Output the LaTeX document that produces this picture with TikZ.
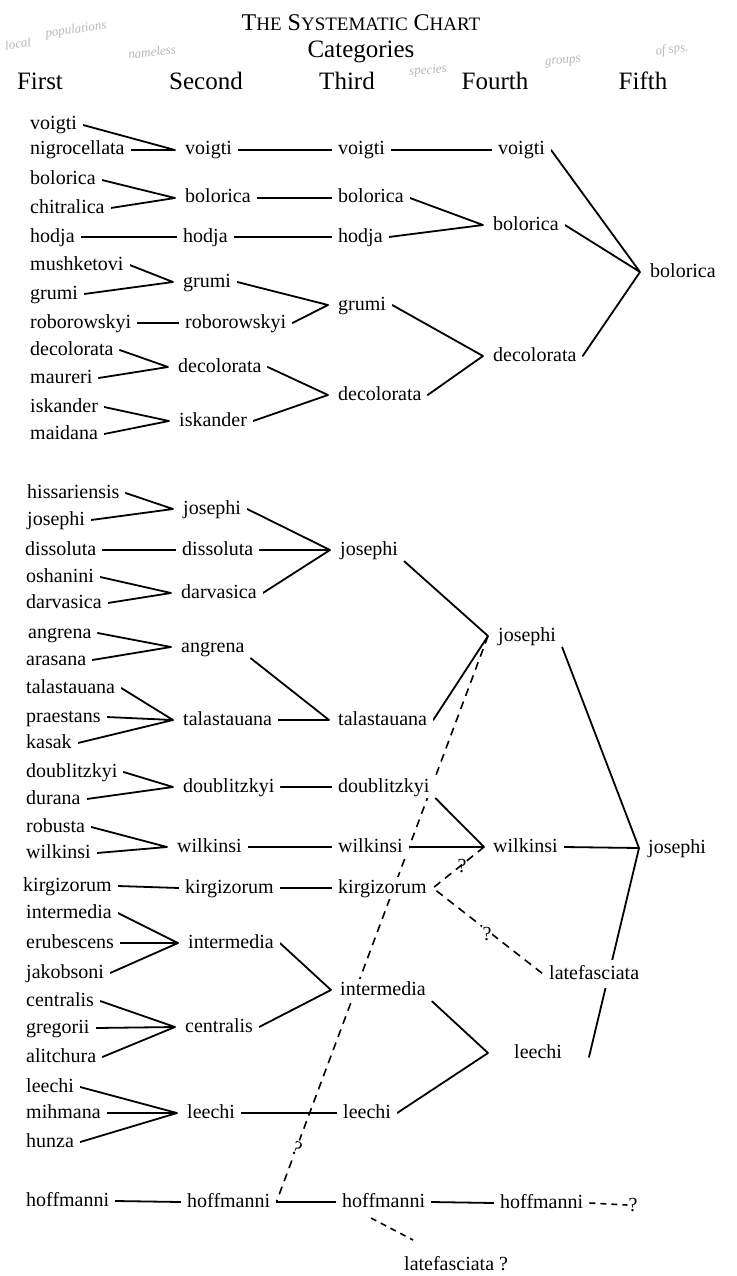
\documentclass[tikz,border=0pt]{standalone}
\usepackage{fontspec}
\setmainfont{Liberation Serif}
\usetikzlibrary{backgrounds}
\newcommand\tscap[2]{{\fontsize{24}{24}\selectfont #1}{\fontsize{19}{19}\selectfont #2}}
\begin{document}
\begin{tikzpicture}[x=1pt,y=-1pt,
  lab/.style={anchor=west, xshift=-6pt, inner xsep=6pt, inner ysep=2pt, text height=14pt, text depth=4pt, fill=white, font=\fontsize{20}{24}\selectfont},
  ln/.style={line width=1.8pt, line cap=round},
  dsh/.style={line width=1.6pt, dash pattern=on 8pt off 6pt},
  sdsh/.style={line width=1.6pt, dash pattern=on 6pt off 5pt},
  hd/.style={font=\fontsize{25}{28}\selectfont, anchor=base},
  qm/.style={font=\fontsize{20}{24}\selectfont, inner sep=1pt},
  note/.style={text=black!28, inner sep=1pt, font=\itshape\fontsize{13}{13}\selectfont}]
\useasboundingbox (0,0) rectangle (736,1276);

% ---------- header ----------
\node[anchor=base, font=\fontsize{24}{24}\selectfont] (title) at (361,31) {\tscap{T}{HE} \tscap{S}{YSTEMATIC} \tscap{C}{HART}};
\node[hd] (cat) at (361,58) {Categories};
\node[hd] (h1) at (40,90) {First};
\node[hd] (h2) at (206,90) {Second};
\node[hd] (h3) at (347,90) {Third};
\node[hd] (h4) at (495,90) {Fourth};
\node[hd] (h5) at (643,90) {Fifth};

% handwritten pencil notes
\node[note, rotate=8] (nt1) at (18,44) {local};
\node[note, rotate=8] (nt2) at (76,30) {populations};
\node[note, rotate=6] (nt3) at (152,52) {nameless};
\node[note, rotate=4] (nt4) at (428,71) {species};
\node[note, rotate=6] (nt5) at (563,62) {groups};
\node[note, rotate=8] (nt6) at (672,50) {of sps.};

% ---------- upper tree ----------
\node[lab] (v1) at (30,125) {voigti};
\node[lab] (nig) at (30,150) {nigrocellata};
\node[lab] (bo1) at (30,180) {bolorica};
\node[lab] (chi) at (30,208) {chitralica};
\node[lab] (ho1) at (30,237) {hodja};
\node[lab] (mus) at (30,265) {mushketovi};
\node[lab] (gr1) at (30,294) {grumi};
\node[lab] (rob1) at (30,323) {roborowskyi};
\node[lab] (de1) at (30,350) {decolorata};
\node[lab] (mau) at (30,378) {maureri};
\node[lab] (is1) at (30,407) {iskander};
\node[lab] (mai) at (30,434) {maidana};

\node[lab] (v2) at (185,150) {voigti};
\node[lab] (bo2) at (185,198) {bolorica};
\node[lab] (ho2) at (183,237) {hodja};
\node[lab] (gr2) at (183,282) {grumi};
\node[lab] (rob2) at (185,323) {roborowskyi};
\node[lab] (de2) at (178,367) {decolorata};
\node[lab] (is2) at (179,421) {iskander};

\node[lab] (v3) at (338,150) {voigti};
\node[lab] (bo3) at (338,198) {bolorica};
\node[lab] (ho3) at (338,237) {hodja};
\node[lab] (gr3) at (338,305) {grumi};
\node[lab] (de3) at (338,395) {decolorata};

\node[lab] (v4) at (498,150) {voigti};
\node[lab] (bo4) at (493,225) {bolorica};
\node[lab] (de4) at (493,356) {decolorata};

\node[lab] (bo5) at (650,272) {bolorica};

% ---------- lower tree ----------
\node[lab] (his) at (27,493) {hissariensis};
\node[lab] (jo1) at (27,520) {josephi};
\node[lab] (dis1) at (25,550) {dissoluta};
\node[lab] (osh) at (26,577) {oshanini};
\node[lab] (dar1) at (26,603) {darvasica};
\node[lab] (ang1) at (28,633) {angrena};
\node[lab] (ara) at (26,660) {arasana};
\node[lab] (tal1) at (26,688) {talastauana};
\node[lab] (pra) at (26,717) {praestans};
\node[lab] (kas) at (26,743) {kasak};
\node[lab] (dou1) at (26,772) {doublitzkyi};
\node[lab] (dur) at (26,799) {durana};
\node[lab] (robu) at (26,827) {robusta};
\node[lab] (wil1) at (26,853) {wilkinsi};
\node[lab] (kir1) at (23,886) {kirgizorum};
\node[lab] (int1) at (26,913) {intermedia};
\node[lab] (eru) at (26,943) {erubescens};
\node[lab] (jak) at (26,973) {jakobsoni};
\node[lab] (cen1) at (26,1001) {centralis};
\node[lab] (gre) at (26,1028) {gregorii};
\node[lab] (ali) at (26,1057) {alitchura};
\node[lab] (lee1) at (26,1087) {leechi};
\node[lab] (mih) at (26,1113) {mihmana};
\node[lab] (hun) at (26,1142) {hunza};
\node[lab] (hof1) at (26,1201) {hoffmanni};

\node[lab] (jo2) at (183,509) {josephi};
\node[lab] (dis2) at (182,550) {dissoluta};
\node[lab] (dar2) at (181,593) {darvasica};
\node[lab] (ang2) at (181,647) {angrena};
\node[lab] (tal2) at (183,720) {talastauana};
\node[lab] (dou2) at (183,787) {doublitzkyi};
\node[lab] (wil2) at (177,847) {wilkinsi};
\node[lab] (kir2) at (185,888) {kirgizorum};
\node[lab] (int2) at (188,943) {intermedia};
\node[lab] (cen2) at (185,1027) {centralis};
\node[lab] (lee2) at (187,1113) {leechi};
\node[lab] (hof2) at (187,1202) {hoffmanni};

\node[lab] (jo3) at (340,550) {josephi};
\node[lab] (tal3) at (338,720) {talastauana};
\node[lab] (dou3) at (338,787) {doublitzkyi};
\node[lab] (wil3) at (338,847) {wilkinsi};
\node[lab] (kir3) at (338,888) {kirgizorum};
\node[lab] (int3) at (340,990) {intermedia};
\node[lab] (lee3) at (343,1113) {leechi};
\node[lab] (hof3) at (342,1202) {hoffmanni};

\node[lab] (jo4) at (498,636) {josephi};
\node[lab] (wil4) at (493,847) {wilkinsi};
\node[lab, inner ysep=5pt] (lat4) at (549,974) {latefasciata};
\node[lab] (lee4) at (514,1053) {leechi};
\node[lab] (hof4) at (500,1203) {hoffmanni};

\node[lab] (jo5) at (648,848) {josephi};

\node[lab] (latq) at (404,1265) {latefasciata ?};

% question marks
\node[qm] (q1) at (462,866) {?};
\node[qm, fill=white] (q2) at (487,934) {?};
\node[qm, fill=white, rotate=-25] (q3) at (297,1148) {?};
\node[qm] (q4) at (633,1205) {?};

% ---------- merge points ----------
\coordinate (m-v2) at ([xshift=-4pt]v2.west);
\coordinate (m-bo2) at ([xshift=-4pt]bo2.west);
\coordinate (m-gr2) at ([xshift=-4pt]gr2.west);
\coordinate (m-de2) at ([xshift=-4pt]de2.west);
\coordinate (m-is2) at ([xshift=-4pt]is2.west);
\coordinate (m-gr3) at ([xshift=-4pt]gr3.west);
\coordinate (m-de3) at ([xshift=-4pt]de3.west);
\coordinate (m-bo4) at ([xshift=-4pt]bo4.west);
\coordinate (m-de4) at ([xshift=-4pt]de4.west);
\coordinate (m-bo5) at ([xshift=-4pt]bo5.west);

\coordinate (m-jo2) at ([xshift=-4pt]jo2.west);
\coordinate (m-dar2) at ([xshift=-4pt]dar2.west);
\coordinate (m-ang2) at ([xshift=-4pt]ang2.west);
\coordinate (m-tal2) at ([xshift=-4pt]tal2.west);
\coordinate (m-dou2) at ([xshift=-4pt]dou2.west);
\coordinate (m-wil2) at ([xshift=-4pt]wil2.west);
\coordinate (m-int2) at ([xshift=-4pt]int2.west);
\coordinate (m-cen2) at ([xshift=-4pt]cen2.west);
\coordinate (m-lee2) at ([xshift=-4pt]lee2.west);
\coordinate (m-jo3) at ([xshift=-4pt]jo3.west);
\coordinate (m-tal3) at ([xshift=-3pt]tal3.west);
\coordinate (m-int3) at ([xshift=-3pt]int3.west);
\coordinate (m-jo4) at ([xshift=-4pt]jo4.west);
\coordinate (m-wil4) at ([xshift=-3pt]wil4.west);
\coordinate (m-lee4) at ([xshift=-20pt]lee4.west);
\coordinate (m-jo5) at ([xshift=-3pt]jo5.west);
\coordinate (e-lee4) at (589,1057);
\coordinate (h3a) at (371,1218);
\coordinate (la) at (413,1240);

\begin{pgfonlayer}{background}
\fill[white] (0,0) rectangle (736,1276);
% upper connectors
\draw[ln] (v1.east) -- (m-v2) (nig.east) -- (m-v2);
\draw[ln] (v2.east) -- (v3.west) (v3.east) -- (v4.west);
\draw[ln] (bo1.east) -- (m-bo2) (chi.east) -- (m-bo2);
\draw[ln] (bo2.east) -- (bo3.west);
\draw[ln] (ho1.east) -- (ho2.west) (ho2.east) -- (ho3.west);
\draw[ln] (bo3.east) -- (m-bo4) (ho3.east) -- (m-bo4);
\draw[ln] (mus.east) -- (m-gr2) (gr1.east) -- (m-gr2);
\draw[ln] (rob1.east) -- (rob2.west);
\draw[ln] (gr2.east) -- (m-gr3) (rob2.east) -- (m-gr3);
\draw[ln] (de1.east) -- (m-de2) (mau.east) -- (m-de2);
\draw[ln] (is1.east) -- (m-is2) (mai.east) -- (m-is2);
\draw[ln] (de2.east) -- (m-de3) (is2.east) -- (m-de3);
\draw[ln] (gr3.east) -- (m-de4) (de3.east) -- (m-de4);
\draw[ln] (v4.east) -- (m-bo5) (bo4.east) -- (m-bo5) (de4.east) -- (m-bo5);
% lower connectors
\draw[ln] (his.east) -- (m-jo2) (jo1.east) -- (m-jo2);
\draw[ln] (dis1.east) -- (dis2.west);
\draw[ln] (jo2.east) -- (m-jo3) (dis2.east) -- (m-jo3) (dar2.east) -- (m-jo3);
\draw[ln] (osh.east) -- (m-dar2) (dar1.east) -- (m-dar2);
\draw[ln] (ang1.east) -- (m-ang2) (ara.east) -- (m-ang2);
\draw[ln] (tal1.east) -- (m-tal2) (pra.east) -- (m-tal2) (kas.east) -- (m-tal2);
\draw[ln] (ang2.south east) -- (m-tal3) (tal2.east) -- (m-tal3);
\draw[ln] (jo3.south east) -- (m-jo4) (tal3.east) -- (m-jo4);
\draw[ln] (dou1.east) -- (m-dou2) (dur.east) -- (m-dou2);
\draw[ln] (dou2.east) -- (dou3.west);
\draw[ln] (dou3.south east) -- (m-wil4) (wil3.east) -- (m-wil4);
\draw[ln] (robu.east) -- (m-wil2) (wil1.east) -- (m-wil2);
\draw[ln] (wil2.east) -- (wil3.west);
\draw[ln] (kir1.east) -- (kir2.west) (kir2.east) -- (kir3.west);
\draw[ln] (int1.east) -- (m-int2) (eru.east) -- (m-int2) (jak.east) -- (m-int2);
\draw[ln] (cen1.east) -- (m-cen2) (gre.east) -- (m-cen2) (ali.east) -- (m-cen2);
\draw[ln] (int2.east) -- (m-int3) (cen2.east) -- (m-int3);
\draw[ln] (int3.south east) -- (m-lee4) (lee3.east) -- (m-lee4);
\draw[ln] (lee1.east) -- (m-lee2) (mih.east) -- (m-lee2) (hun.east) -- (m-lee2);
\draw[ln] (lee2.east) -- (lee3.west);
\draw[ln] (hof1.east) -- (hof2.west) (hof2.east) -- (hof3.west) (hof3.east) -- (hof4.west);
\draw[ln] (jo4.south east) -- (m-jo5) (wil4.east) -- (m-jo5) (e-lee4) -- (m-jo5);
% dashed connectors
\draw[dsh] (m-jo4) -- (hof2.east);
\draw[dsh] (m-wil4) -- (kir3.east) -- (lat4.west);
\draw[sdsh] (h3a) -- (la);
\draw[sdsh] (hof4.east) -- (q4.west);
\end{pgfonlayer}
\end{tikzpicture}
\end{document}
